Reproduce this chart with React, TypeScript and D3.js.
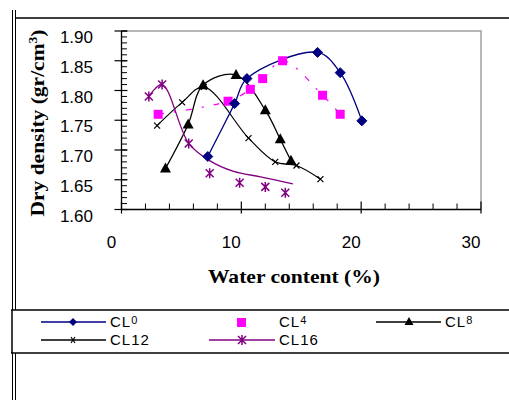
import React from "react";
import * as d3 from "d3";

type P = [number, number];

const CL0: P[] = [[7.2, 1.689], [9.44, 1.778], [10.47, 1.82], [16.36, 1.864], [18.25, 1.83], [20.06, 1.749]];
const CL4: P[] = [[3.06, 1.76], [8.89, 1.782], [10.75, 1.802], [11.78, 1.82], [13.44, 1.85], [16.78, 1.792], [18.25, 1.76]];
const CL8: P[] = [[3.67, 1.669], [5.56, 1.743], [6.81, 1.809], [9.56, 1.826], [12.0, 1.767], [13.25, 1.718], [14.14, 1.682]];
const CL12: P[] = [[2.97, 1.741], [5.06, 1.78], [6.86, 1.806], [10.6, 1.72], [12.83, 1.68], [14.6, 1.674], [16.6, 1.651]];
const CL16: P[] = [[2.28, 1.79], [3.39, 1.81], [5.61, 1.711], [7.36, 1.661], [9.86, 1.645], [12.0, 1.638], [13.67, 1.628]];
const CL16_TREND: P[] = [[2.28, 1.79], [3.39, 1.81], [5.61, 1.711], [7.28, 1.683], [9.36, 1.664], [11.6, 1.655], [14.3, 1.643]];

const yMajor = [1.6, 1.65, 1.7, 1.75, 1.8, 1.85, 1.9];
const xMajor = [0, 10, 20, 30];

const x = d3.scaleLinear().domain([0, 30]).range([121.5, 481]);
const y = d3.scaleLinear().domain([1.6, 1.9]).range([209.5, 31]);

const curve = d3.line<P>().x((d) => x(d[0])).y((d) => y(d[1])).curve(d3.curveCatmullRom.alpha(0.5));

const NAVY = "#000080";
const MAG = "#FF00FF";
const PURP = "#800080";

function Diamond({ cx, cy }: { cx: number; cy: number }) {
  return <path d={`M${cx},${cy - 5}L${cx + 5},${cy}L${cx},${cy + 5}L${cx - 5},${cy}Z`} fill={NAVY} stroke={NAVY} />;
}
function Square({ cx, cy }: { cx: number; cy: number }) {
  return <rect x={cx - 4.5} y={cy - 4.5} width={9} height={9} fill={MAG} />;
}
function Tri({ cx, cy }: { cx: number; cy: number }) {
  return <path d={`M${cx},${cy - 6}L${cx + 5.5},${cy + 4}L${cx - 5.5},${cy + 4}Z`} fill="#000" />;
}
function Cross({ cx, cy }: { cx: number; cy: number }) {
  return <path d={`M${cx - 3},${cy - 3}L${cx + 3},${cy + 3}M${cx - 3},${cy + 3}L${cx + 3},${cy - 3}`} stroke="#000" strokeWidth={1.2} />;
}
function Star({ cx, cy }: { cx: number; cy: number }) {
  return (
    <path
      d={`M${cx - 4},${cy - 4}L${cx + 4},${cy + 4}M${cx - 4},${cy + 4}L${cx + 4},${cy - 4}M${cx},${cy - 5}L${cx},${cy + 5}`}
      stroke={PURP}
      strokeWidth={1.5}
    />
  );
}

function LegendLabel({ x0, y0, base, digit, small }: { x0: number; y0: number; base: string; digit: string; small: boolean }) {
  return (
    <text x={x0} y={y0 + 5} fontFamily="Liberation Sans, Arial, sans-serif" fontSize={15} letterSpacing={1} fill="#000">
      {base}
      {small ? (
        <tspan fontSize={11} dy={-3}>{digit}</tspan>
      ) : (
        <tspan>{digit}</tspan>
      )}
    </text>
  );
}

export default function App() {
  const yMinor = d3.range(1.6, 1.9001, 0.01);
  const xMinor = d3.range(0, 30.001, 2).filter((v) => v % 10 !== 0);
  return (
    <svg width={509} height={400} style={{ position: "absolute", left: 0, top: 0, background: "#fff" }}>
      {/* outer frame */}
      <line x1={12.5} y1={10} x2={12.5} y2={310} stroke="#000" strokeWidth={1} />
      <line x1={15.5} y1={10} x2={15.5} y2={310} stroke="#000" strokeWidth={1} />
      <line x1={12.5} y1={353} x2={12.5} y2={400} stroke="#000" strokeWidth={1} />
      <line x1={15.5} y1={353} x2={15.5} y2={400} stroke="#000" strokeWidth={1} />
      <line x1={15} y1={18} x2={509} y2={18} stroke="#000" strokeWidth={1.5} />
      {/* legend box */}
      <line x1={11} y1={310} x2={509} y2={310} stroke="#000" strokeWidth={1.5} />
      <line x1={11} y1={353} x2={509} y2={353} stroke="#000" strokeWidth={1.5} />
      <line x1={12} y1={310} x2={12} y2={353} stroke="#000" strokeWidth={1.5} />

      {/* plot frame */}
      <path d={`M${x(0)},${y(1.9)}H${x(30)}V${y(1.6)}`} fill="none" stroke="#a0a0a0" strokeWidth={1.5} />

      {/* y axis */}
      <line x1={x(0)} y1={y(1.9)} x2={x(0)} y2={y(1.6)} stroke="#000" strokeWidth={1.3} />
      {yMinor.map((v, i) => (
        <line key={"ym" + i} x1={x(0)} x2={x(0) + 5.5} y1={y(v)} y2={y(v)} stroke="#000" />
      ))}
      {yMajor.map((v) => (
        <g key={"yM" + v}>
          <line x1={x(0) - 7} x2={x(0) + 6} y1={y(v)} y2={y(v)} stroke="#000" strokeWidth={1.2} />
          <text x={93} y={y(v) + 12} textAnchor="end" fontFamily="Liberation Sans, Arial, sans-serif" fontSize={17} fill="#000">
            {d3.format(".2f")(v)}
          </text>
        </g>
      ))}

      {/* x axis */}
      <line x1={x(0)} y1={y(1.6)} x2={x(30)} y2={y(1.6)} stroke="#000" strokeWidth={1.3} />
      {xMinor.map((v) => (
        <line key={"xm" + v} x1={x(v)} x2={x(v)} y1={y(1.6)} y2={y(1.6) - 6} stroke="#000" />
      ))}
      {xMajor.map((v) => (
        <g key={"xM" + v}>
          <line x1={x(v)} x2={x(v)} y1={y(1.6) - 8} y2={y(1.6) + 4} stroke="#000" strokeWidth={1.2} />
          <text x={x(v) - 10} y={248} textAnchor="middle" fontFamily="Liberation Sans, Arial, sans-serif" fontSize={17} fill="#000">
            {v}
          </text>
        </g>
      ))}

      {/* titles */}
      <text x={294} y={283} textAnchor="middle" fontFamily="Liberation Serif, Times New Roman, serif" fontWeight="bold" fontSize={19} textLength={172} lengthAdjust="spacingAndGlyphs" fill="#000">
        Water content (%)
      </text>
      <text
        transform="translate(44,123) rotate(-90)"
        textAnchor="middle"
        fontFamily="Liberation Serif, Times New Roman, serif"
        fontWeight="bold"
        fontSize={19}
        textLength={187}
        lengthAdjust="spacingAndGlyphs"
        fill="#000"
      >
        Dry density (gr/cm<tspan fontSize={12} dy={-7}>3</tspan><tspan dy={7}>)</tspan>
      </text>

      {/* series lines */}
      <path d={curve(CL4) ?? ""} fill="none" stroke={MAG} strokeWidth={1.3} strokeDasharray="6,10,2,10" />
      <path d={curve(CL12) ?? ""} fill="none" stroke="#000" strokeWidth={1.2} />
      <path d={curve(CL8) ?? ""} fill="none" stroke="#000" strokeWidth={1.3} />
      <path d={curve(CL16_TREND) ?? ""} fill="none" stroke={PURP} strokeWidth={1.3} />
      <path d={curve(CL0) ?? ""} fill="none" stroke={NAVY} strokeWidth={1.3} />

      {/* markers */}
      {CL12.map((d, i) => <Cross key={"c12" + i} cx={x(d[0])} cy={y(d[1])} />)}
      {CL16.map((d, i) => <Star key={"c16" + i} cx={x(d[0])} cy={y(d[1])} />)}
      {CL4.map((d, i) => <Square key={"c4" + i} cx={x(d[0])} cy={y(d[1])} />)}
      {CL8.map((d, i) => <Tri key={"c8" + i} cx={x(d[0])} cy={y(d[1])} />)}
      {CL0.map((d, i) => <Diamond key={"c0" + i} cx={x(d[0])} cy={y(d[1])} />)}

      {/* legend */}
      <line x1={41} x2={106} y1={322} y2={322} stroke={NAVY} strokeWidth={1.3} />
      <path d="M73,318L77,322L73,326L69,322Z" fill={NAVY} />
      <LegendLabel x0={110} y0={322} base="CL" digit="0" small={true} />

      <rect x={237} y={318} width={9} height={9} fill={MAG} />
      <LegendLabel x0={279} y0={322} base="CL" digit="4" small={true} />

      <line x1={376} x2={441} y1={322} y2={322} stroke="#000" strokeWidth={1.3} />
      <path d="M409,317L413.5,325L404.5,325Z" fill="#000" />
      <LegendLabel x0={445} y0={322} base="CL" digit="8" small={true} />

      <line x1={41} x2={106} y1={340} y2={340} stroke="#000" strokeWidth={1.3} />
      <path d="M71,337L75,343M71,343L75,337" stroke="#000" strokeWidth={1.2} />
      <LegendLabel x0={110} y0={340} base="CL" digit="12" small={false} />

      <line x1={209} x2={275} y1={340} y2={340} stroke={PURP} strokeWidth={1.3} />
      <path d="M238,336L246,344M238,344L246,336M242,335L242,345" stroke={PURP} strokeWidth={1.5} />
      <LegendLabel x0={279} y0={340} base="CL" digit="16" small={false} />
    </svg>
  );
}
